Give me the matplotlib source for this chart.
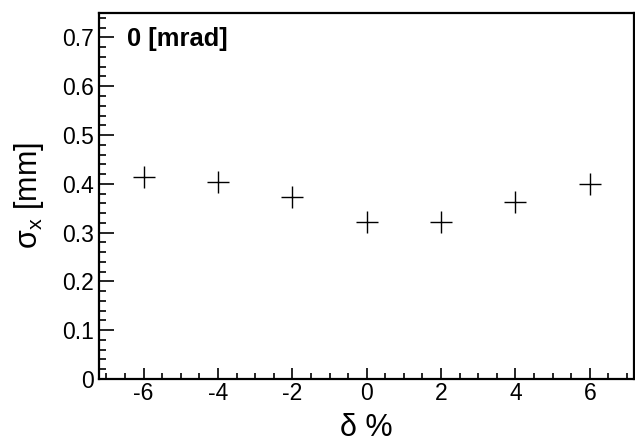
import matplotlib
matplotlib.use("Agg")
import matplotlib.pyplot as plt
from matplotlib.ticker import MultipleLocator

plt.rcParams["font.family"] = ["Liberation Sans", "DejaVu Sans"]
plt.rcParams["mathtext.fontset"] = "custom"
plt.rcParams["mathtext.rm"] = "Liberation Sans"
plt.rcParams["mathtext.it"] = "Liberation Sans"
plt.rcParams["mathtext.bf"] = "Liberation Sans:bold"
plt.rcParams["axes.unicode_minus"] = False

# momentum offset (percent) and horizontal beam size
delta = [-6, -4, -2, 0, 2, 4, 6]
sigma_x = [0.414, 0.404, 0.372, 0.322, 0.322, 0.362, 0.400]
angle_label = "0 [mrad]"
y_ticks = [0, 0.1, 0.2, 0.3, 0.4, 0.5, 0.6, 0.7]
y_tick_labels = ["0", "0.1", "0.2", "0.3", "0.4", "0.5", "0.6", "0.7"]

fig = plt.figure(figsize=(6.35, 4.43), dpi=100)
ax = fig.add_axes([0.156, 0.1445, 0.843, 0.826])

ax.plot(delta, sigma_x, linestyle="none", marker="+", markersize=16,
        markeredgewidth=1.0, color="black")

ax.set_xlim(-7.2, 7.2)
ax.set_ylim(0, 0.75)
ax.xaxis.set_major_locator(MultipleLocator(2))
ax.xaxis.set_minor_locator(MultipleLocator(0.5))
ax.yaxis.set_minor_locator(MultipleLocator(0.02))
ax.set_yticks(y_ticks)
ax.set_yticklabels(y_tick_labels)

ax.tick_params(which="both", direction="in", top=False, right=False,
               labelsize=16.5, width=1.2)
ax.tick_params(axis="y", which="major", length=11, pad=4)
ax.tick_params(axis="y", which="minor", length=5.3)
ax.tick_params(axis="x", which="major", length=7.7, pad=2)
ax.tick_params(axis="x", which="minor", length=4)

for s in ax.spines.values():
    s.set_linewidth(1.6)

ax.set_xlabel("δ %", fontsize=22, labelpad=6)
ax.set_ylabel(r"$\mathregular{\sigma_x}$ [mm]", fontsize=22, labelpad=11)

ax.text(0.052, 0.91, angle_label, transform=ax.transAxes,
        fontsize=18.4, fontweight="bold", ha="left", va="baseline")

fig.savefig("out.png", dpi=100)
